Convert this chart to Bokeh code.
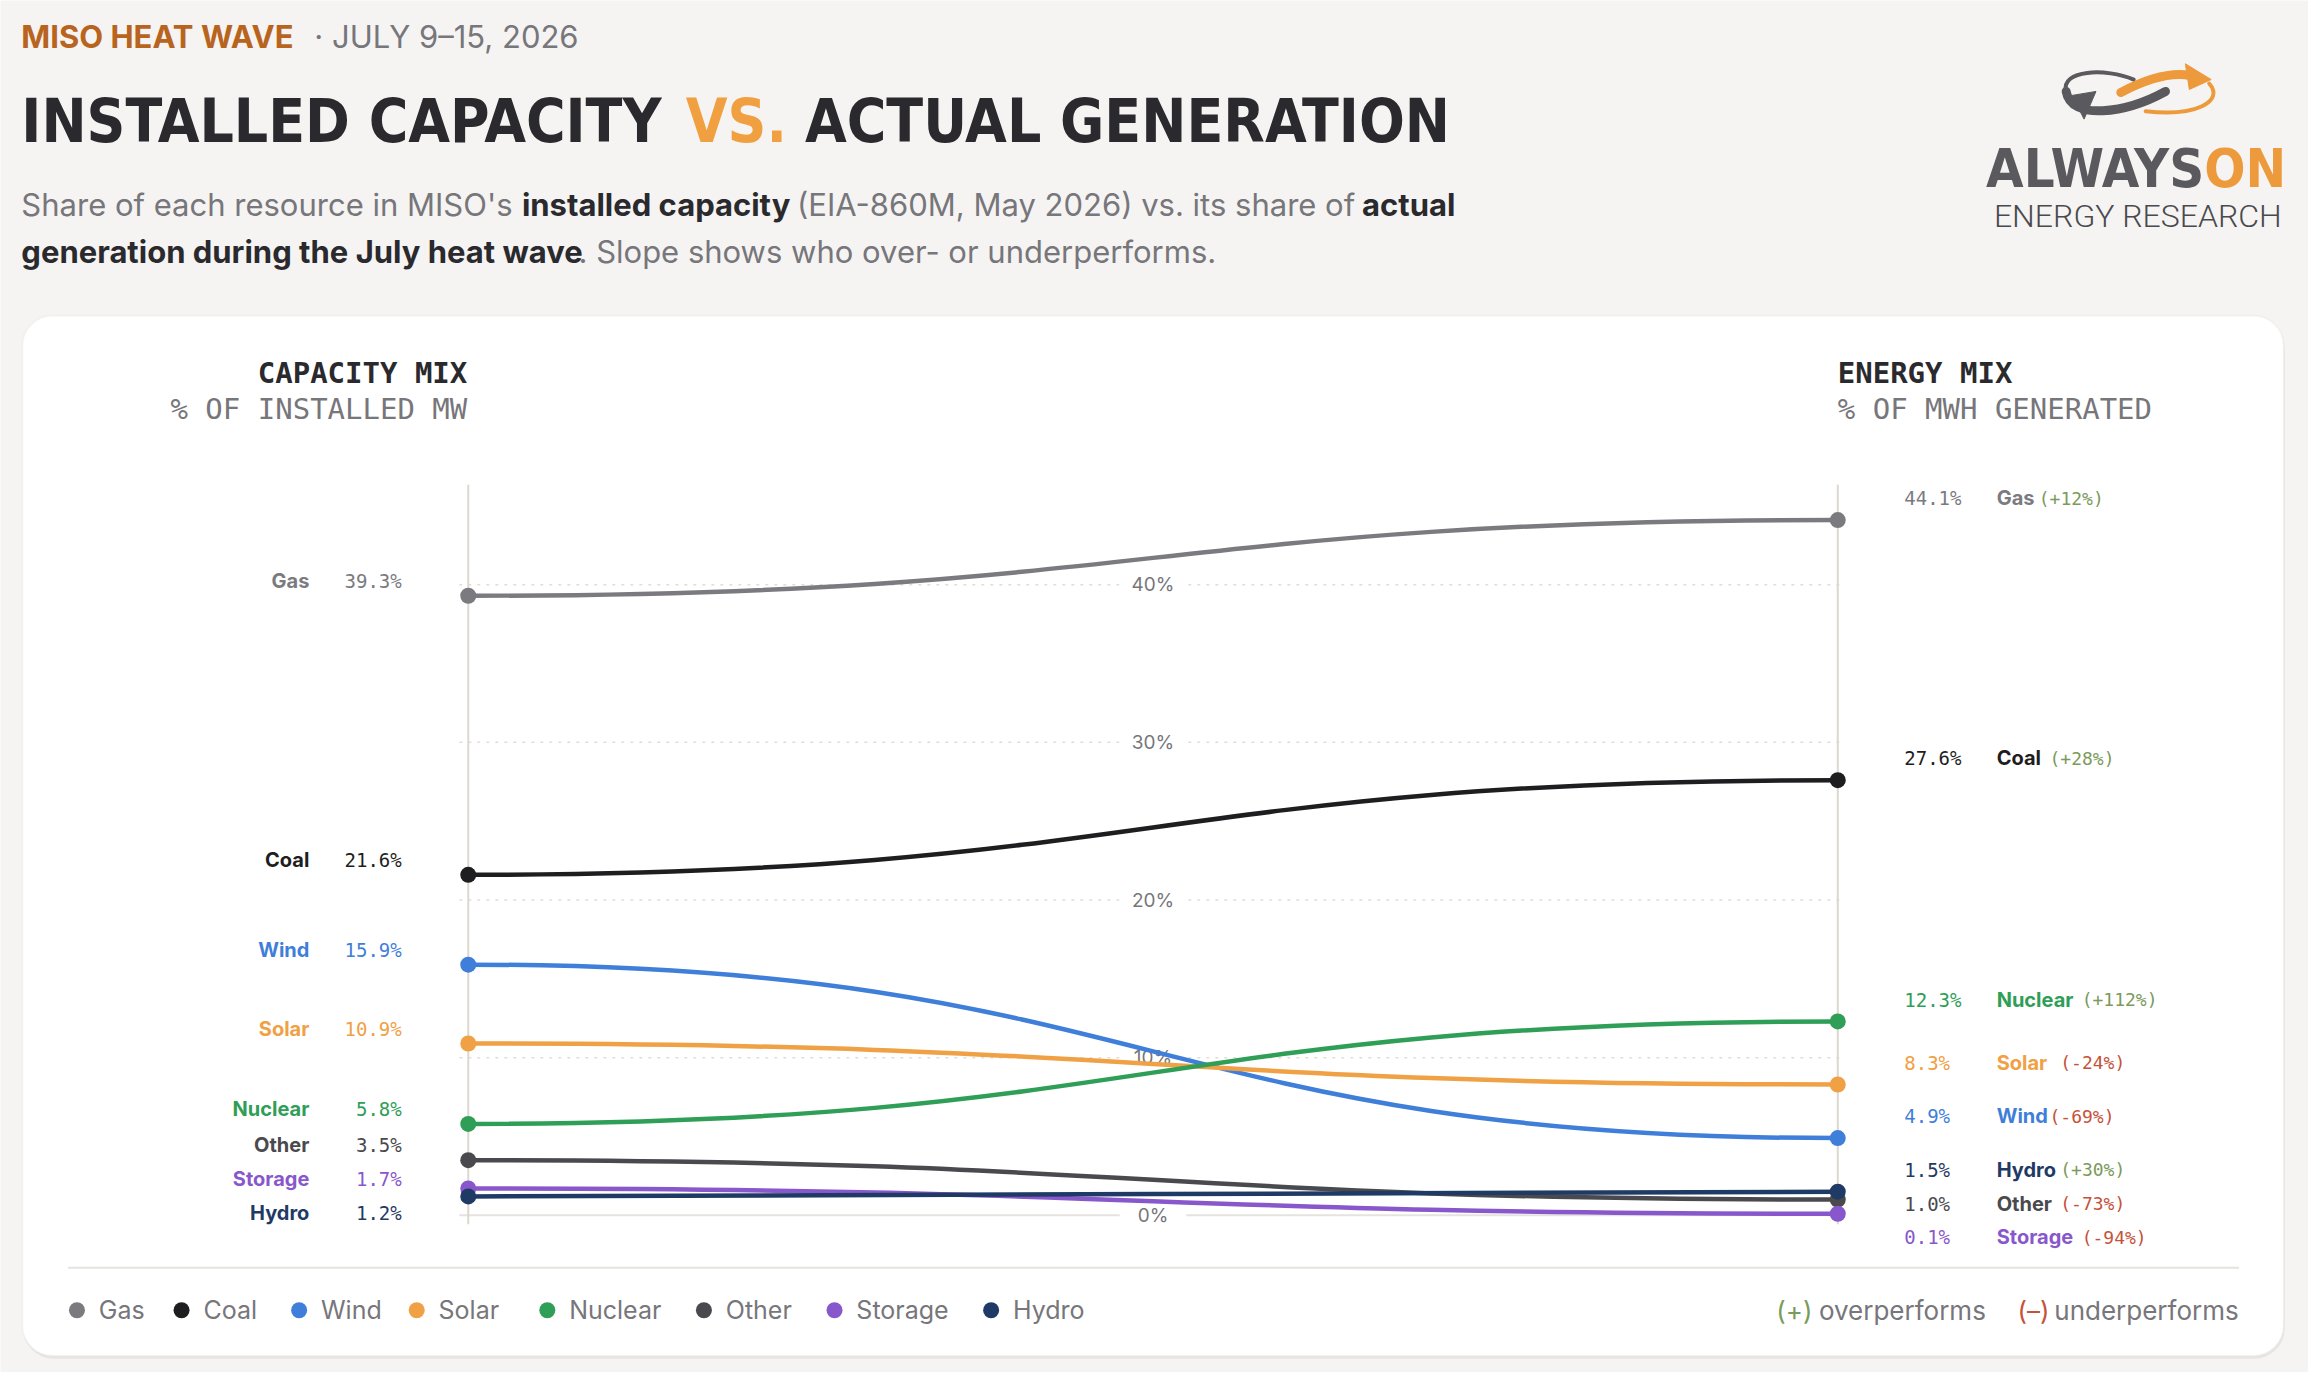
from bokeh.plotting import figure
from bokeh.models import ColumnDataSource, Range1d, BoxAnnotation
from bokeh.core.properties import value
from bokeh.embed import file_html
from bokeh.resources import INLINE

# resource shares
names = ["Gas", "Coal", "Wind", "Solar", "Nuclear", "Other", "Storage", "Hydro"]
capacity = [39.3, 21.6, 15.9, 10.9, 5.8, 3.5, 1.7, 1.2]      # % of installed MW
generation = [44.1, 27.6, 4.9, 8.3, 12.3, 1.0, 0.1, 1.5]     # % of MWh generated
change = [12, 28, -69, -24, 112, -73, -94, 30]               # relative over/under performance
colors = ["#7b7a7f", "#1e1e21", "#3f7fd9", "#f0a045", "#2f9e57", "#4a494e", "#8957cc", "#1f3a64"]
grid_ticks = [0, 10, 20, 30, 40]

BG = "#f5f4f2"
GRAY = "#77767b"
DARK = "#2a2a2e"
GREEN = "#7b9a5b"
RED = "#c5523a"
SANS = value("Inter")
MONO = value("DejaVu Sans Mono")
COND = value("DejaVu Sans Condensed")

# reference pixel -> data helpers (x: 0 = capacity column, 1 = energy column; y in %)
X0, X1 = 471, 1850
Y0, PY = 1229, 15.95


def X(px):
    return (px - X0) / (X1 - X0)


def Y(py):
    return (Y0 - py) / PY


def dodge(vals, offset_px, gap_px=34):
    order = sorted(range(len(vals)), key=lambda i: -vals[i])
    out = [0] * len(vals)
    prev = None
    for i in order:
        py = Y0 - vals[i] * PY - offset_px
        if prev is not None and py < prev + gap_px:
            py = prev + gap_px
        out[i] = Y(py)
        prev = py
    return out


def label(px, py, s, font=SANS, size="31px", color=DARK, style="normal", align="left"):
    p.text(x=[X(px)], y=[Y(py)], text=[s], text_font=font, text_font_size=size, text_font_style=style,
           text_color=color, text_align=align, text_baseline="middle")


p = figure(width=2308, height=1372, x_range=Range1d(X(0), X(2324)), y_range=Range1d(Y(1388), Y(0)),
           output_backend="svg", toolbar_location=None, min_border=0,
           background_fill_color=BG, border_fill_color=BG, outline_line_color=None)
p.axis.visible = False
p.grid.visible = False

# card
p.add_layout(BoxAnnotation(left=X(23), right=X(2300), top=Y(322), bottom=Y(1374), fill_color="#e7e5e1",
                           fill_alpha=1, line_color=None, border_radius=30, level="underlay"))
p.add_layout(BoxAnnotation(left=X(22), right=X(2299), top=Y(319), bottom=Y(1371), fill_color="white",
                           fill_alpha=1, line_color="#e6e2dc", line_width=2, border_radius=30, level="underlay"))

# header
label(21, 36, "MISO HEAT WAVE", color="#b8641e", style="bold")
label(316, 36, "\u00b7 JULY 9\u201315, 2026", color=GRAY)
label(21, 122, "INSTALLED CAPACITY", font=COND, size="60px", style="bold")
label(690, 122, "VS.", font=COND, size="60px", style="bold", color="#f0a040")
label(810, 122, "ACTUAL GENERATION", font=COND, size="60px", style="bold")

sub = [
    (21, 206, "Share of each resource in MISO's", GRAY, "normal"),
    (525, 206, "installed capacity", DARK, "bold"),
    (802, 206, "(EIA-860M, May 2026) vs. its share of", GRAY, "normal"),
    (1371, 206, "actual", DARK, "bold"),
    (21, 254, "generation during the July heat wave", DARK, "bold"),
    (582, 254, ". Slope shows who over- or underperforms.", GRAY, "normal"),
]
for sx, sy, st, sc, sw in sub:
    label(sx, sy, st, color=sc, style=sw)

# logo
label(2219, 170, "ALWAYS", font=COND, size="54px", style="bold", color="#5a595e", align="right")
label(2219, 170, "ON", font=COND, size="54px", style="bold", color="#ec9a3c")
label(2297, 218, "ENERGY RESEARCH", font=value("Roboto Light"), size="32px", color="#4a494e", align="right")
p.bezier(x0=[X(2180)], y0=[Y(92)], x1=[X(2080)], y1=[Y(92)], cx0=[X(2140)], cy0=[Y(114)],
         cx1=[X(2085)], cy1=[Y(122)], line_color="#5a595e", line_width=9, line_cap="round")
p.bezier(x0=[X(2080)], y0=[Y(92)], x1=[X(2148)], y1=[Y(80)], cx0=[X(2074)], cy0=[Y(70)],
         cx1=[X(2120)], cy1=[Y(68)], line_color="#5a595e", line_width=4, line_cap="round")
p.patch(x=[X(2086), X(2110), X(2098)], y=[Y(96), Y(92), Y(120)], color="#5a595e")
p.bezier(x0=[X(2135)], y0=[Y(93)], x1=[X(2205)], y1=[Y(76)], cx0=[X(2160)], cy0=[Y(80)],
         cx1=[X(2185)], cy1=[Y(72)], line_color="#ec9a3c", line_width=9, line_cap="round")
p.patch(x=[X(2200), X(2226), X(2204)], y=[Y(64), Y(80), Y(90)], color="#ec9a3c")
p.bezier(x0=[X(2224)], y0=[Y(84)], x1=[X(2160)], y1=[Y(112)], cx0=[X(2240)], cy0=[Y(102)],
         cx1=[X(2210)], cy1=[Y(118)], line_color="#ec9a3c", line_width=4, line_cap="round")

# column headers
label(470, 377, "CAPACITY MIX", font=MONO, size="29px", style="bold", align="right")
label(470, 413, "% OF INSTALLED MW", font=MONO, size="29px", color=GRAY, align="right")
label(1850, 377, "ENERGY MIX", font=MONO, size="29px", style="bold")
label(1850, 413, "% OF MWH GENERATED", font=MONO, size="29px", color=GRAY)

# gridlines + tick labels
dotted = [t for t in grid_ticks if t != 0]
p.segment(x0=X(462), x1=X(1853), y0=dotted, y1=dotted, line_color="#e3ded4", line_width=1.5,
          line_dash="3 6")
p.segment(x0=X(462), x1=X(1853), y0=[0], y1=[0], line_color="#e6e3de", line_width=2)
p.quad(left=X(1127), right=X(1194), top=[t + 0.75 for t in grid_ticks],
       bottom=[t - 0.75 for t in grid_ticks], fill_color="white", line_color=None)
p.text(x=0.5, y=grid_ticks, text=[f"{t}%" for t in grid_ticks], text_font=SANS, text_font_size="19px",
       text_color=GRAY, text_align="center", text_baseline="middle")

# column axes
p.segment(x0=[0, 1], x1=[0, 1], y0=Y(1238), y1=Y(490), line_color="#dcd7cf", line_width=2)

# slopes
src = ColumnDataSource(dict(
    name=names, cap=capacity, gen=generation, color=colors,
    x0=[0] * len(names), x1=[1] * len(names), cx=[0.5] * len(names),
))
p.bezier(x0="x0", y0="cap", x1="x1", y1="gen", cx0="cx", cy0="cap", cx1="cx", cy1="gen",
         line_color="color", line_width=4.5, source=src)
p.scatter(x="x0", y="cap", size=16, fill_color="color", line_color=None, source=src)
p.scatter(x="x1", y="gen", size=16, fill_color="color", line_color=None, source=src)

# left labels
left = ColumnDataSource(dict(
    y=dodge(capacity, 15), name=names, val=[f"{v:.1f}%" for v in capacity], color=colors,
))
p.text(x=X(311), y="y", text="name", text_font=SANS, text_font_size="20px", text_font_style="bold",
       text_color="color", text_align="right", text_baseline="middle", source=left)
p.text(x=X(404), y="y", text="val", text_font=MONO, text_font_size="19px",
       text_color="color", text_align="right", text_baseline="middle", source=left)

# right labels
right = ColumnDataSource(dict(
    y=dodge(generation, 22), name=names, val=[f"{v:.1f}%" for v in generation], color=colors,
    cx=[X(2010 + 10.8 * len(n) + 10) for n in names],
    chg=[f"({c:+d}%)" for c in change],
    ccol=[GREEN if c > 0 else RED for c in change],
))
p.text(x=X(1917), y="y", text="val", text_font=MONO, text_font_size="19px",
       text_color="color", text_baseline="middle", source=right)
p.text(x=X(2010), y="y", text="name", text_font=SANS, text_font_size="20px", text_font_style="bold",
       text_color="color", text_baseline="middle", source=right)
p.text(x="cx", y="y", text="chg", text_font=MONO, text_font_size="18px",
       text_color="ccol", text_baseline="middle", source=right)

# footer
p.segment(x0=[X(68)], x1=[X(2254)], y0=[Y(1282)], y1=[Y(1282)], line_color="#e6e3de", line_width=2)
lx = []
cur = 77
for n in names:
    lx.append(cur)
    cur += 66 + 13.1 * len(n)
leg = ColumnDataSource(dict(x=[X(v) for v in lx], tx=[X(v + 22) for v in lx], name=names, color=colors))
p.scatter(x="x", y=Y(1325), size=16, fill_color="color", line_color=None, source=leg)
p.text(x="tx", y=Y(1325), text="name", text_font=SANS, text_font_size="25px", text_color=GRAY,
       text_baseline="middle", source=leg)
for fx, ft, fc in [(1788, "(+)", GREEN), (1831, "overperforms", GRAY),
                   (2031, "(\u2013)", RED), (2068, "underperforms", GRAY)]:
    label(fx, 1325, ft, size="26px", color=fc)

open("out.html", "w").write(file_html(p, INLINE))
